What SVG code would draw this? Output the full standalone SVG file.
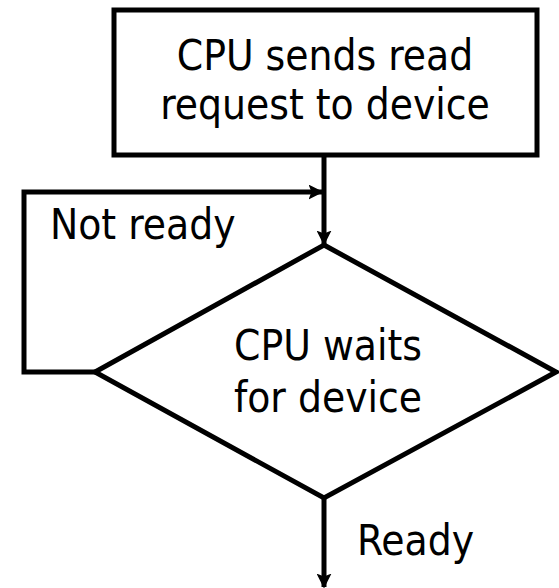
<svg xmlns="http://www.w3.org/2000/svg" width="559" height="588" viewBox="0 0 559 588">
<style>
.shape{fill:#fff;stroke:#000;stroke-width:5}
.line{fill:none;stroke:#000;stroke-width:5}
text{font-family:"DejaVu Sans Condensed","DejaVu Sans",Verdana,sans-serif;font-size:42px;fill:#000}
.c{text-anchor:middle}
</style>
<defs>
<marker id="arr" viewBox="0 0 10 10" refX="9" refY="5" markerWidth="3" markerHeight="3" orient="auto" markerUnits="strokeWidth">
<path d="M0,0 L10,5 L0,10 L2,5 z" fill="#000"/>
</marker>
</defs>
<g id="connectors">
<line class="line" x1="324" y1="155" x2="324" y2="244" marker-end="url(#arr)"/>
<polyline class="line" points="95,372 24,372 24,192 322,192" marker-end="url(#arr)"/>
<line class="line" x1="324" y1="498" x2="324" y2="587" marker-end="url(#arr)"/>
</g>
<g id="request">
<rect class="shape" x="114" y="10" width="423" height="145"/>
<text class="c" x="325" y="70">CPU sends read</text>
<text class="c" x="325" y="119">request to device</text>
</g>
<g id="wait">
<polygon class="shape" points="324,245 556,372 324,498 95,372"/>
<text class="c" x="328" y="360">CPU waits</text>
<text class="c" x="328" y="412">for device</text>
</g>
<g id="labels">
<text x="50" y="239">Not ready</text>
<text x="357" y="555">Ready</text>
</g>
</svg>
